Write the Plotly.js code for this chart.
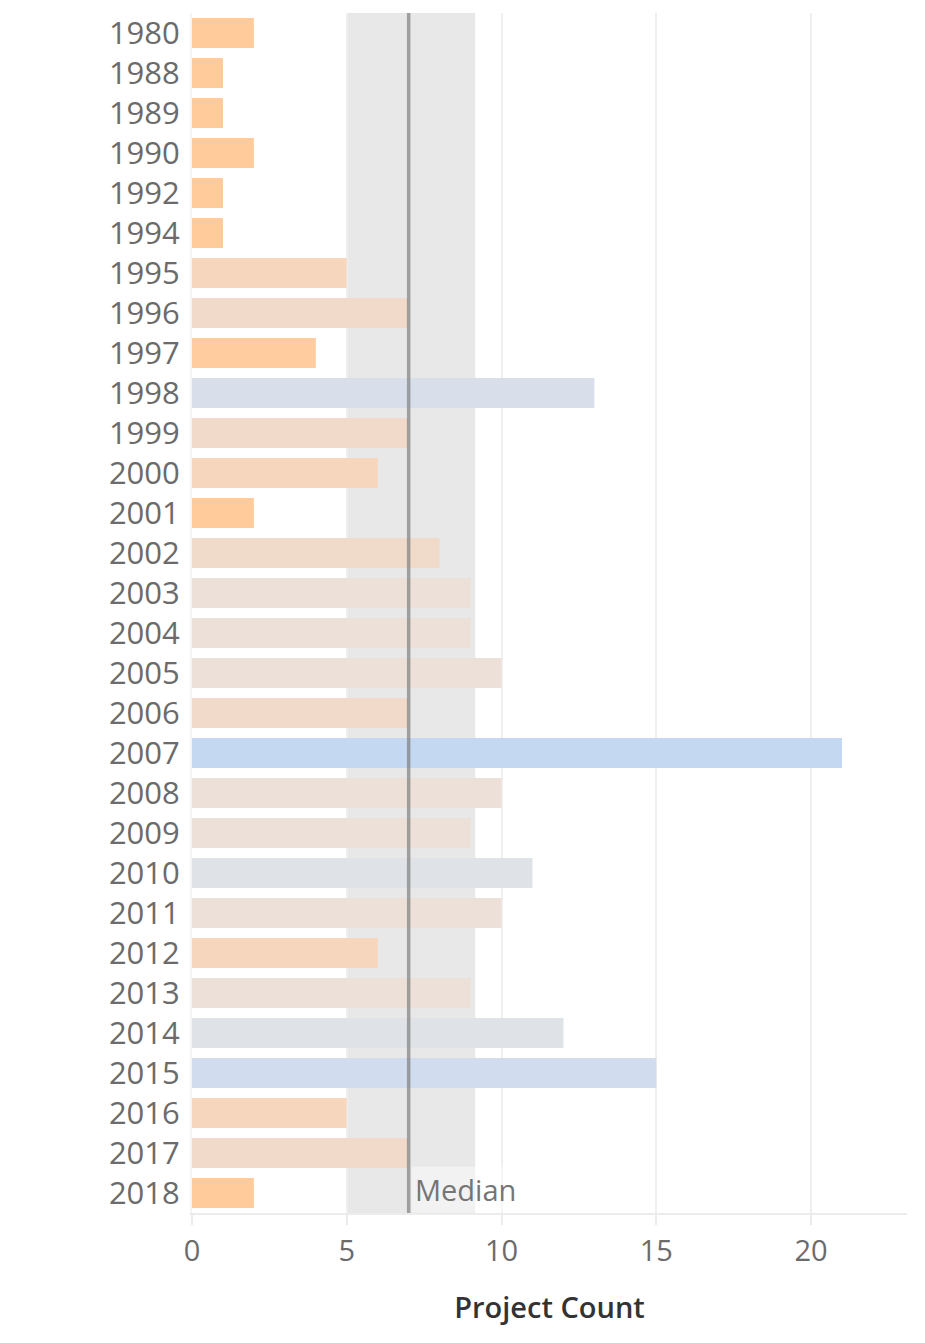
<!DOCTYPE html>
<html>
<head>
<meta charset="utf-8">
<script src="https://cdn.plot.ly/plotly-3.0.1.min.js"></script>
<style>html,body{margin:0;padding:0;background:#fff;}#chart{width:925px;height:1343px;}</style>
</head>
<body>
<div id="chart"></div>
<script>
const years = ["1980","1988","1989","1990","1992","1994","1995","1996","1997","1998","1999","2000","2001","2002","2003","2004","2005","2006","2007","2008","2009","2010","2011","2012","2013","2014","2015","2016","2017","2018"];
const projectCount = [2,1,1,2,1,1,5,7,4,13,7,6,2,8,9,9,10,7,21,10,9,11,10,6,9,12,15,5,7,2];
const medianValue = 7;
const bandLow = 5;
const bandHigh = 9.15;
const xTickVals = [0,5,10,15,20];
const xTickText = ["0","5","10","15","20"];

const colorscale = [
  [0.00, "rgb(255,203,154)"],
  [0.15, "rgb(254,204,158)"],
  [0.20, "rgb(246,215,190)"],
  [0.25, "rgb(246,214,188)"],
  [0.30, "rgb(241,218,202)"],
  [0.35, "rgb(240,218,202)"],
  [0.40, "rgb(236,224,216)"],
  [0.45, "rgb(236,224,216)"],
  [0.50, "rgb(223,226,231)"],
  [0.55, "rgb(223,226,231)"],
  [0.60, "rgb(216,223,234)"],
  [0.70, "rgb(209,221,238)"],
  [1.00, "rgb(196,216,242)"]
];

const trace = {
  type: "bar",
  orientation: "h",
  y: years,
  x: projectCount,
  width: 0.75,
  marker: {color: projectCount, colorscale: colorscale, cmin: 1, cmax: 21, line: {width: 0}},
  hoverinfo: "y+x",
  showlegend: false
};

const layout = {
  width: 925, height: 1343,
  margin: {l: 192, r: 18, t: 13, b: 130},
  paper_bgcolor: "#fff", plot_bgcolor: "#fff",
  font: {family: "Open Sans, sans-serif", color: "#6b6b6b", size: 29},
  bargap: 0.25,
  xaxis: {
    range: [0, 23.1],
    tickvals: xTickVals, ticktext: xTickText,
    showgrid: true, gridcolor: "#efefef", gridwidth: 2,
    zeroline: false,
    showline: true, linecolor: "#ececec", linewidth: 2,
    ticks: "outside", ticklen: 10, tickcolor: "#ececec", tickwidth: 2,
    ticklabelstandoff: 1,
    tickfont: {size: 29, color: "#6b6b6b"},
    title: {text: "Project Count", font: {size: 29, color: "#333", weight: 600}, standoff: 30},
    fixedrange: true
  },
  yaxis: {
    type: "category",
    autorange: "reversed",
    showgrid: false, zeroline: false,
    showline: true, linecolor: "#f4f4f4", linewidth: 2,
    ticks: "outside", ticklen: 4, tickcolor: "rgba(0,0,0,0)",
    tickfont: {size: 31, color: "#6b6b6b"},
    fixedrange: true
  },
  shapes: [
    {type: "rect", layer: "below", xref: "x", yref: "paper", x0: bandLow, x1: bandHigh, y0: 0, y1: 1,
     fillcolor: "#e8e8e8", line: {width: 0}},
    {type: "line", layer: "above", xref: "x", yref: "paper", x0: medianValue, x1: medianValue, y0: 0, y1: 1,
     line: {color: "rgba(120,120,120,0.65)", width: 3.5}}
  ],
  annotations: [
    {xref: "x", yref: "paper", x: medianValue, y: 0, xanchor: "left", yanchor: "bottom",
     xshift: 2, text: "Median", showarrow: false, align: "left",
     font: {size: 29, color: "#757575"}, bgcolor: "rgba(255,255,255,0.45)", borderpad: 3}
  ]
};

Plotly.newPlot("chart", [trace], layout, {displayModeBar: false, staticPlot: true});
</script>
</body>
</html>
